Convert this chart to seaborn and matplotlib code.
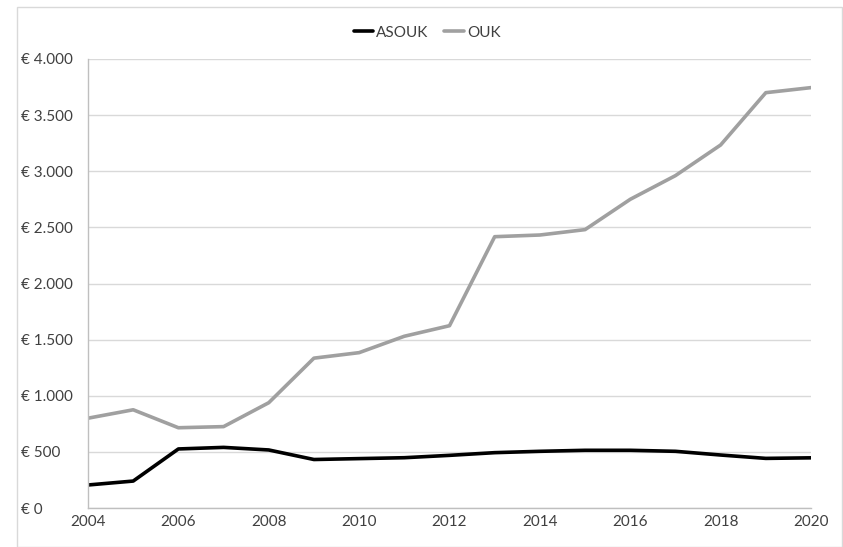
import matplotlib
matplotlib.use("Agg")
import matplotlib.pyplot as plt
import matplotlib.ticker as mticker
import seaborn as sns
import pandas as pd

years = list(range(2004, 2021))
asouk = [205, 240, 526, 540, 517, 432, 440, 448, 469, 493, 505, 514, 514, 505, 472, 442, 447]
ouk = [800, 875, 715, 725, 938, 1335, 1384, 1530, 1624, 2417, 2432, 2480, 2750, 2961, 3234, 3700, 3745]
series_names = ["ASOUK", "OUK"]
series_colors = ["#000000", "#a0a0a0"]

df = pd.DataFrame({"year": years, "ASOUK": asouk, "OUK": ouk})
long = df.melt(id_vars="year", var_name="series", value_name="value")

sns.set_style("white")
plt.rcParams["font.family"] = ["Lato", "DejaVu Sans"]

fig = plt.figure(figsize=(8.43, 5.47), dpi=100)
ax = fig.add_axes([88/843, 1 - 508/547, (811-88)/843, (508-59)/547])

sns.lineplot(data=long, x="year", y="value", hue="series", hue_order=series_names,
             palette=series_colors, linewidth=2.6, ax=ax, legend=True)

ax.set_xlim(2004, 2020)
ax.set_ylim(0, 4000)
ax.set_xticks(list(range(2004, 2021, 2)))
ax.set_yticks(list(range(0, 4001, 500)))
ax.yaxis.set_major_formatter(mticker.FuncFormatter(
    lambda v, p: "€ " + f"{int(v):,}".replace(",", ".")))
ax.grid(axis="y", color="#d9d9d9", linewidth=1)
ax.set_axisbelow(True)
for s in ["top", "right"]:
    ax.spines[s].set_visible(False)
for s in ["left", "bottom"]:
    ax.spines[s].set_color("#bfbfbf")
    ax.spines[s].set_linewidth(1)
ax.tick_params(axis="both", length=0, labelsize=11, colors="#404040")
ax.tick_params(axis="x", pad=5)
ax.set_xlabel("")
ax.set_ylabel("")
for lbl in ax.get_yticklabels():
    lbl.set_horizontalalignment("left")
ax.tick_params(axis="y", pad=48)

leg = ax.legend(loc="upper center", bbox_to_anchor=(0.469, 1 + 47/449), ncol=2, frameon=False,
                fontsize=11, handlelength=1.3, handletextpad=0.2, columnspacing=1.0)
for t in leg.get_texts():
    t.set_color("#404040")

# outer border
fig.patches.append(plt.Rectangle((17/843, 0), 1 - 17/843 - 1/843, 1 - 7/547, transform=fig.transFigure,
                                 fill=False, edgecolor="#d9d9d9", linewidth=1))

fig.savefig("out.png", dpi=100)
